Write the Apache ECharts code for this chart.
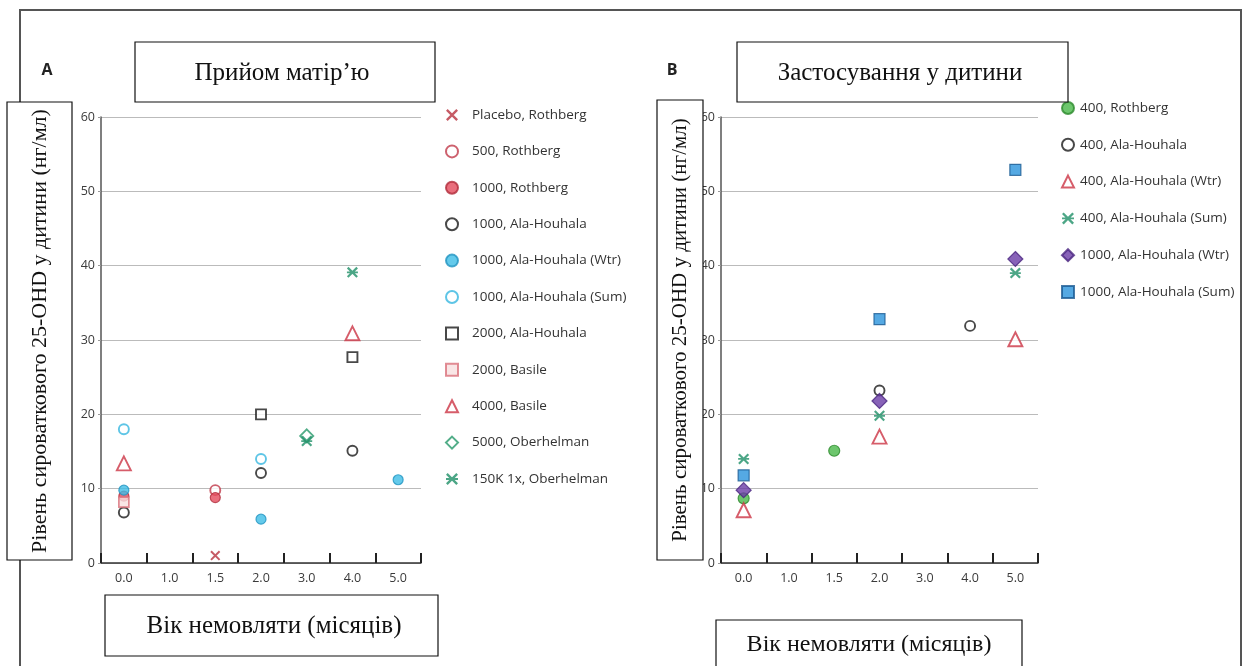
<!DOCTYPE html>
<html>
<head>
<meta charset="utf-8">
<script src="https://cdn.jsdelivr.net/npm/echarts@6/dist/echarts.min.js"></script>
<style>
html,body{margin:0;padding:0;background:#fff;}
#chart{width:1249px;height:666px;}
</style>
</head>
<body>
<div id="chart"></div>
<script>
// ---- data ----
const categories = ['0.0', '1.0', '1.5', '2.0', '3.0', '4.0', '5.0'];
const yMin = 0, yMax = 60, yStep = 10;

// Panel A (maternal dosing)
const placeboRothberg = [['1.5', 1.0]];
const rothberg500 = [['1.5', 9.8]];
const rothberg1000 = [['0.0', 9.0], ['1.5', 8.8]];
const alaHouhala1000 = [['0.0', 6.8], ['2.0', 12.1], ['4.0', 15.1]];
const alaHouhala1000Wtr = [['0.0', 9.8], ['2.0', 5.9], ['5.0', 11.2]];
const alaHouhala1000Sum = [['0.0', 18.0], ['2.0', 14.0]];
const alaHouhala2000 = [['2.0', 20.0], ['4.0', 27.7]];
const basile2000 = [['0.0', 8.2]];
const basile4000 = [['0.0', 13.4], ['4.0', 30.9]];
const oberhelman5000 = [['3.0', 17.1]];
const oberhelman150K = [['3.0', 16.4], ['4.0', 39.1]];

// Panel B (infant dosing)
const rothberg400B = [['0.0', 8.7], ['1.5', 15.1]];
const alaHouhala400B = [['2.0', 23.2], ['4.0', 31.9]];
const alaHouhala400WtrB = [['0.0', 7.1], ['2.0', 17.0], ['5.0', 30.1]];
const alaHouhala400SumB = [['0.0', 14.0], ['2.0', 19.8], ['5.0', 39.0]];
const alaHouhala1000WtrB = [['0.0', 9.8], ['2.0', 21.8], ['5.0', 40.9]];
const alaHouhala1000SumB = [['0.0', 11.8], ['2.0', 32.8], ['5.0', 52.9]];

const titleA = 'Прийом матір’ю';
const titleB = 'Застосування у дитини';
const yTitle = 'Рівень сироваткового 25-OHD у дитини (нг/мл)';
const xTitle = 'Вік немовляти (місяців)';

// ---- styles ----
const CROSS = 'path://M0,1.4L1.4,0L10,8.6L8.6,10ZM8.6,0L10,1.4L1.4,10L0,8.6Z';
const STAR = 'path://M0,1.4L1.4,0L10,8.6L8.6,10ZM8.6,0L10,1.4L1.4,10L0,8.6ZM0,4.2L10,4.2L10,5.8L0,5.8Z';
const ZW = '\u200B';

function sc(name, data, gi, symbol, size, style) {
  return {
    type: 'scatter', name: name, data: data,
    xAxisIndex: gi, yAxisIndex: gi,
    symbol: symbol, symbolSize: size, symbolKeepAspect: true,
    itemStyle: style, emphasis: {disabled: true}
  };
}
function openS(c) { return {color: '#fff', borderColor: c, borderWidth: 1.9}; }
function fillS(c, b) { return {color: c, borderColor: b, borderWidth: 1.2}; }

const seriesA = [
  sc('Placebo, Rothberg', placeboRothberg, 0, CROSS, 10, {color: '#b8323f'}),
  sc('500, Rothberg', rothberg500, 0, 'circle', 10, openS('#c0394a')),
  sc('1000, Rothberg', rothberg1000, 0, 'circle', 10, fillS('#e44a5b', '#b02a3a')),
  sc('1000, Ala-Houhala', alaHouhala1000, 0, 'circle', 10, openS('#1a1a1a')),
  sc('1000, Ala-Houhala (Wtr)', alaHouhala1000Wtr, 0, 'circle', 10, fillS('#3dbde6', '#2094c0')),
  sc('1000, Ala-Houhala (Sum)', alaHouhala1000Sum, 0, 'circle', 10, openS('#36b6e0')),
  sc('2000, Ala-Houhala', alaHouhala2000, 0, 'rect', 10, openS('#1a1a1a')),
  sc('2000, Basile', basile2000, 0, 'rect', 10, {color: '#f8e0e0', borderColor: '#d9707a', borderWidth: 1.7}),
  sc('4000, Basile', basile4000, 0, 'triangle', 14, openS('#cc3545')),
  sc('5000, Oberhelman', oberhelman5000, 0, 'diamond', 13, openS('#27996a')),
  sc('150K 1x, Oberhelman', oberhelman150K, 0, STAR, 11, {color: '#1f9068'})
];
const seriesB = [
  sc('400, Rothberg', rothberg400B, 1, 'circle', 11, fillS('#48b848', '#2c8a2c')),
  sc('400, Ala-Houhala', alaHouhala400B, 1, 'circle', 10, openS('#1a1a1a')),
  sc('400, Ala-Houhala (Wtr)', alaHouhala400WtrB, 1, 'triangle', 14, openS('#cc3545')),
  sc('400, Ala-Houhala (Sum)', alaHouhala400SumB, 1, STAR, 11, {color: '#1f9068'}),
  sc('1000, Ala-Houhala (Wtr)' + ZW, alaHouhala1000WtrB, 1, 'diamond', 15, fillS('#6a3ca6', '#4a2680')),
  sc('1000, Ala-Houhala (Sum)' + ZW, alaHouhala1000SumB, 1, 'rect', 11, fillS('#2a93dc', '#1a5a92'))
];

function xAx(gi) {
  return {
    type: 'category', gridIndex: gi, data: categories, boundaryGap: true,
    axisLine: {show: true, lineStyle: {color: '#333', width: 1.5}},
    axisTick: {show: true, inside: true, length: 10, lineStyle: {color: '#222', width: 2}},
    axisLabel: {color: '#3a3a3a', fontFamily: 'Open Sans', fontSize: 12.5, margin: 9},
    splitLine: {show: false}
  };
}
function yAx(gi) {
  return {
    type: 'value', gridIndex: gi, min: yMin, max: yMax, interval: yStep,
    axisLine: {show: true, lineStyle: {color: '#555', width: 1.5}},
    axisTick: {show: true, length: 3, lineStyle: {color: '#999'}},
    axisLabel: {color: '#3a3a3a', fontFamily: 'Open Sans', fontSize: 12.5, margin: 6},
    splitLine: {show: true, lineStyle: {color: '#bbb', width: 1.2}}
  };
}

function box(x, y, w, h, z) {
  return {type: 'rect', z: z || 10, shape: {x: x, y: y, width: w, height: h},
    style: {fill: '#fff', stroke: '#111', lineWidth: 1.2}};
}
function txt(x, y, t, size, rot, z) {
  return {type: 'text', z: z || 11, x: x, y: y, rotation: rot || 0,
    style: {text: t, font: size + 'px "Liberation Serif"', fill: '#111',
      align: 'center', verticalAlign: 'middle'}};
}

function legendText(padLeft) {
  return {color: '#333', fontFamily: 'Open Sans', fontSize: 13.5, lineHeight: 16, padding: [0, 0, 0, padLeft]};
}

const option = {
  animation: false,
  backgroundColor: '#fff',
  grid: [
    {left: 101, right: 828, top: 117, bottom: 103},
    {left: 721, right: 211, top: 117, bottom: 103}
  ],
  xAxis: [xAx(0), xAx(1)],
  yAxis: [yAx(0), yAx(1)],
  legend: [
    {orient: 'vertical', left: 445, top: 107, padding: 0, itemGap: 20.4,
     itemWidth: 12, itemHeight: 12, textStyle: legendText(9), selectedMode: false,
     data: seriesA.map(s => s.name)},
    {orient: 'vertical', left: 1061, top: 100, padding: 0, itemGap: 20.8,
     itemWidth: 12, itemHeight: 12, textStyle: legendText(1), selectedMode: false,
     data: seriesB.map(s => s.name)}
  ],
  graphic: [
    {type: 'rect', z: 1, shape: {x: 20, y: 10, width: 1221, height: 700},
     style: {fill: 'none', stroke: '#555', lineWidth: 2}},
    {type: 'text', z: 11, x: 47, y: 70, style: {text: 'A', font: 'bold 16px "Open Sans"', fill: '#222', align: 'center', verticalAlign: 'middle'}},
    {type: 'text', z: 11, x: 672, y: 70, style: {text: 'B', font: 'bold 16px "Open Sans"', fill: '#222', align: 'center', verticalAlign: 'middle'}},
    box(135, 42, 300, 60), txt(282, 73, titleA, 25),
    box(737, 42, 331, 60), txt(900, 73, titleB, 25),
    box(7, 102, 65, 458), txt(40, 331, yTitle, 22, Math.PI / 2),
    box(657, 100, 46, 460), txt(680, 330, yTitle, 21, Math.PI / 2),
    box(105, 595, 333, 61), txt(274, 626, xTitle, 25),
    box(716, 620, 306, 60), txt(869, 645, xTitle, 24)
  ],
  series: seriesA.concat(seriesB)
};

const chart = echarts.init(document.getElementById('chart'), null, {renderer: 'canvas'});
chart.setOption(option);
</script>
</body>
</html>
